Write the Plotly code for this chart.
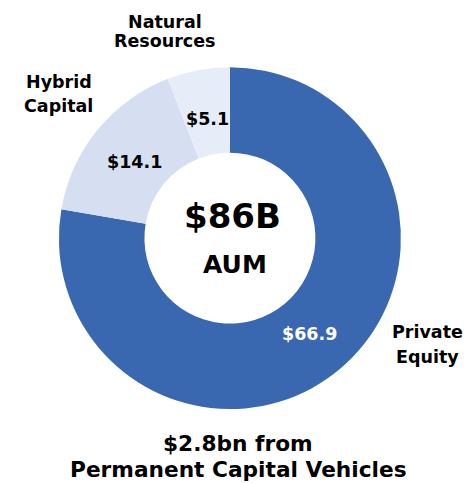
import math

import plotly.graph_objects as go

categories = ["Private Equity", "Hybrid Capital", "Natural Resources"]
aum_bn = [66.9, 14.1, 5.1]
slice_colors = ["#3A68B0", "#D5DFF1", "#E7EDF8"]
value_colors = ["white", "black", "black"]

FONT = "DejaVu Sans, Verdana, sans-serif"
W, H = 464, 483
DOMAIN_X = [0.127, 0.864]
DOMAIN_Y = [0.153, 0.861]

fig = go.Figure(
    go.Pie(
        labels=categories,
        values=aum_bn,
        hole=0.5,
        sort=False,
        direction="clockwise",
        rotation=0,
        marker=dict(colors=slice_colors, line=dict(width=0)),
        textinfo="none",
        domain=dict(x=DOMAIN_X, y=DOMAIN_Y),
        showlegend=False,
    )
)


def ann(text, px_x, px_y, size, color="black"):
    return dict(
        text=text, x=px_x / W, y=1 - px_y / H,
        xref="paper", yref="paper", showarrow=False, align="center",
        xanchor="center", yanchor="middle",
        font=dict(family=FONT, size=size, color=color),
    )


# value labels at the middle of each slice, ring mid-radius
cx = (DOMAIN_X[0] + DOMAIN_X[1]) / 2 * W
cy = (1 - (DOMAIN_Y[0] + DOMAIN_Y[1]) / 2) * H
outer_r = min((DOMAIN_X[1] - DOMAIN_X[0]) * W, (DOMAIN_Y[1] - DOMAIN_Y[0]) * H) / 2
label_r = outer_r * 0.72
total = sum(aum_bn)
annotations = []
start = 0.0
for val, col in zip(aum_bn, value_colors):
    mid = (start + val / 2) / total * 2 * math.pi
    start += val
    annotations.append(ann(f"<b>${val:.1f}</b>",
                           cx + label_r * math.sin(mid),
                           cy - label_r * math.cos(mid) + 2, 17.5, col))

# category labels outside the ring: (x centre, y of first line, line gap)
label_pos = {
    "Private Equity": (427, 332, 24.5),
    "Hybrid Capital": (59, 82, 23.5),
    "Natural Resources": (165, 22, 19),
}
for name in categories:
    x0, y0, gap = label_pos[name]
    for i, word in enumerate(name.split(" ")):
        annotations.append(ann(f"<b>{word}</b>", x0, y0 + i * gap, 17.5))

annotations += [
    ann("<b>$86B</b>", 232, 216, 34),
    ann("<b>AUM</b>", 235, 264, 25),
    ann("<b>$2.8bn from</b>", 238, 443, 21.7),
    ann("<b>Permanent Capital Vehicles</b>", 238, 469, 21.7),
]

fig.update_layout(
    width=W,
    height=H,
    margin=dict(l=0, r=0, t=0, b=0),
    paper_bgcolor="white",
    plot_bgcolor="white",
    annotations=annotations,
)

fig.write_html(
    "out.html",
    config={"displayModeBar": False},
    post_script="document.body.style.margin='0';",
)
